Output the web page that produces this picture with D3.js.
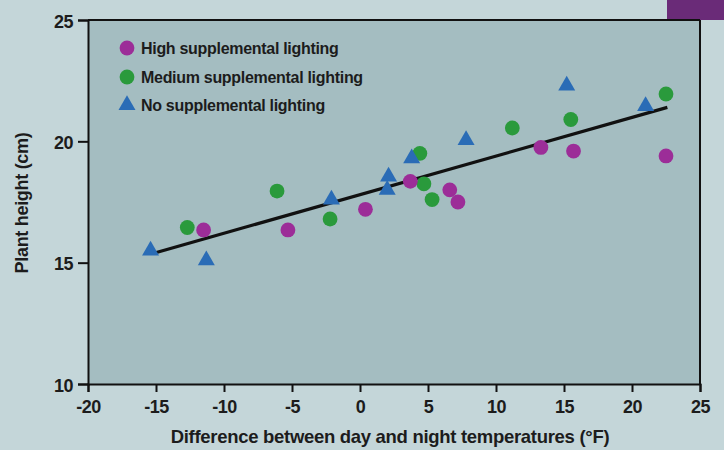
<!DOCTYPE html>
<html><head><meta charset="utf-8">
<script src="https://cdn.jsdelivr.net/npm/d3@7"></script>
<style>
html,body{margin:0;padding:0;background:#c4d6d9;}
svg{display:block;}
text{font-family:"Liberation Sans","Arial",sans-serif;font-weight:bold;fill:#1c1c1c;}
</style></head>
<body>
<svg id="chart" width="724" height="450"></svg>
<script>
// Data
const highX = [-11.5, -5.3, 0.4, 3.7, 6.6, 7.2, 13.3, 15.7, 22.5];
const highY = [16.35, 16.35, 17.2, 18.35, 18.0, 17.5, 19.75, 19.6, 19.4];
const medX = [-12.7, -6.1, -2.2, 4.4, 4.7, 5.3, 11.2, 15.5, 22.5];
const medY = [16.45, 17.95, 16.8, 19.5, 18.25, 17.6, 20.55, 20.9, 21.95];
const noX = [-15.4, -11.3, -2.1, 2.1, 2.0, 3.8, 7.8, 15.2, 21.0];
const noY = [15.5, 15.1, 17.6, 18.55, 18.0, 19.3, 20.05, 22.3, 21.45];
const trendX = [-15.1, 22.6];
const trendY = [15.4, 21.4];
const xTicks = [-20, -15, -10, -5, 0, 5, 10, 15, 20, 25];
const yTicks = [10, 15, 20, 25];
const seriesNames = ["High supplemental lighting", "Medium supplemental lighting", "No supplemental lighting"];
const seriesColors = ["#9c2d98", "#2a9a3c", "#2a6cb6"];

const svg = d3.select("#chart");
const W = 724, H = 450;
const m = {left: 88, right: 24, top: 20, bottom: 66};
const x = d3.scaleLinear().domain([-20, 25]).range([m.left, W - m.right]);
const y = d3.scaleLinear().domain([10, 25]).range([H - m.bottom, m.top]);

// backgrounds
svg.append("rect").attr("width", W).attr("height", H).attr("fill", "#c4d6d9");
svg.append("rect").attr("x", 667).attr("y", 0).attr("width", 57).attr("height", 20).attr("fill", "#6a2b78");
svg.append("rect").attr("x", x(-20)).attr("y", y(25)).attr("width", x(25) - x(-20)).attr("height", y(10) - y(25)).attr("fill", "#a4bdc1");

// frame (top and right)
svg.append("line").attr("x1", x(-20)).attr("x2", x(25)).attr("y1", y(25)).attr("y2", y(25)).attr("stroke", "#111").attr("stroke-width", 2);
svg.append("line").attr("x1", x(25)).attr("x2", x(25)).attr("y1", y(25)).attr("y2", y(10)).attr("stroke", "#111").attr("stroke-width", 2);

// axes
const xAxis = svg.append("g").attr("transform", `translate(0,${y(10)})`)
  .call(d3.axisBottom(x).tickValues(xTicks).tickSize(8).tickPadding(5).tickFormat(d => String(d)));
const yAxis = svg.append("g").attr("transform", `translate(${x(-20)},0)`)
  .call(d3.axisLeft(y).tickValues(yTicks).tickSize(10).tickPadding(5).tickFormat(d => String(d)));
[xAxis, yAxis].forEach(g => {
  g.select(".domain").attr("stroke", "#111").attr("stroke-width", 2);
  g.selectAll(".tick line").attr("stroke", "#111").attr("stroke-width", 2);
  g.selectAll(".tick text").style("font-family", '"Liberation Sans",sans-serif')
    .style("font-weight", "bold").style("font-size", "18px").style("letter-spacing", "-0.5px").attr("fill", "#1c1c1c");
});
xAxis.selectAll(".tick text").attr("dy", "0.9em");
yAxis.selectAll(".tick text").attr("dy", "0.4em");

// axis titles
svg.append("text").attr("x", 390).attr("y", 443).attr("text-anchor", "middle")
  .style("font-size", "18.5px").style("letter-spacing", "-0.3px")
  .text("Difference between day and night temperatures (°F)");
svg.append("text").attr("transform", `translate(28,203) rotate(-90)`).attr("text-anchor", "middle")
  .style("font-size", "18px").style("letter-spacing", "-0.3px")
  .text("Plant height (cm)");

// trend line
svg.append("line").attr("x1", x(trendX[0])).attr("y1", y(trendY[0])).attr("x2", x(trendX[1])).attr("y2", y(trendY[1]))
  .attr("stroke", "#111").attr("stroke-width", 3.2);

const tri = d3.symbol().type(d3.symbolTriangle).size(125);

function circles(xs, ys, color) {
  svg.append("g").selectAll("circle").data(xs.map((v, i) => [v, ys[i]])).join("circle")
    .attr("cx", d => x(d[0])).attr("cy", d => y(d[1])).attr("r", 7.4).attr("fill", color);
}
function triangles(xs, ys, color) {
  svg.append("g").selectAll("path").data(xs.map((v, i) => [v, ys[i]])).join("path")
    .attr("d", tri).attr("transform", d => `translate(${x(d[0])},${y(d[1])})`).attr("fill", color);
}
circles(medX, medY, seriesColors[1]);
triangles(noX, noY, seriesColors[2]);
circles(highX, highY, seriesColors[0]);

// legend
const leg = svg.append("g");
const legY = [48, 77, 105];
seriesNames.forEach((name, i) => {
  if (i < 2) leg.append("circle").attr("cx", 127).attr("cy", legY[i]).attr("r", 7.4).attr("fill", seriesColors[i]);
  else leg.append("path").attr("d", tri).attr("transform", `translate(127,${legY[i]})`).attr("fill", seriesColors[i]);
  leg.append("text").attr("x", 141).attr("y", legY[i]).attr("dy", "0.36em")
    .style("font-size", "16px").style("letter-spacing", "-0.3px").text(name);
});
</script>
</body></html>
